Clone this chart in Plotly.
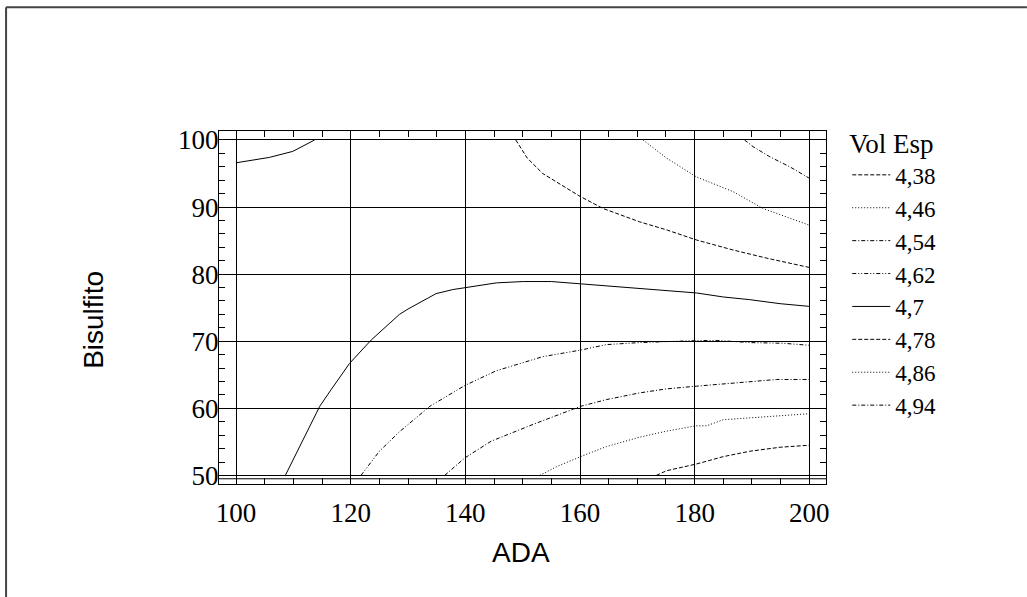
import plotly.graph_objects as go

# ---- data ----
levels = ["4,38", "4,46", "4,54", "4,62", "4,7", "4,78", "4,86", "4,94"]

L438_x = [173.3, 175.1, 180.3, 185.0, 189.6, 194.9, 200.0]
L438_y = [50.0, 50.7, 51.7, 52.8, 53.6, 54.2, 54.5]

L446_x = [153.0, 155.9, 160.1, 164.6, 170.4, 175.1, 180.3, 182.1, 185.0, 192.5, 200.0]
L446_y = [50.0, 51.3, 52.8, 54.3, 55.7, 56.6, 57.4, 57.4, 58.3, 58.8, 59.2]

L454_x = [136.4, 139.9, 144.5, 151.8, 160.1, 164.6, 170.4, 175.1, 180.3, 186.7, 194.3, 200.0]
L454_y = [50.0, 52.6, 55.1, 57.6, 60.3, 61.3, 62.3, 62.9, 63.3, 63.8, 64.3, 64.3]

L462_x = [121.8, 125.0, 128.5, 130.0, 133.8, 139.9, 145.4, 153.5, 160.2, 164.6, 170.4,
          180.3, 184.4, 189.6, 195.4, 200.0]
L462_y = [50.0, 53.6, 56.5, 57.6, 60.3, 63.4, 65.6, 67.7, 68.7, 69.5, 69.8,
          70.1, 70.1, 69.8, 69.7, 69.4]

L470_x = [108.6, 111.7, 114.6, 116.6, 119.8, 123.6, 128.5, 130.0, 134.9, 137.8, 140.2,
          145.4, 150.1, 155.0, 160.2, 170.4, 175.7, 180.3, 185.0, 189.6, 194.9, 200.0,
          None, 100.0, 105.8, 109.9, 113.7]
L470_y = [50.0, 55.3, 60.3, 62.8, 66.7, 70.2, 74.0, 74.8, 77.1, 77.7, 78.0,
          78.7, 78.9, 78.9, 78.55, 77.9, 77.6, 77.2, 76.6, 76.2, 75.6, 75.2,
          None, 96.6, 97.4, 98.3, 100.0]

L478_x = [148.8, 150.8, 153.5, 160.0, 164.0, 170.4, 175.1, 180.3, 186.7, 192.5, 200.0]
L478_y = [100.0, 97.3, 95.0, 91.6, 89.8, 87.8, 86.6, 85.1, 83.6, 82.4, 81.0]

L486_x = [171.0, 175.1, 180.3, 186.7, 191.9, 200.0]
L486_y = [100.0, 97.3, 94.5, 92.3, 89.8, 87.3]

L494_x = [188.7, 190.2, 193.1, 196.6, 200.0]
L494_y = [100.0, 99.0, 97.5, 96.0, 94.3]

xs = [L438_x, L446_x, L454_x, L462_x, L470_x, L478_x, L486_x, L494_x]
ys = [L438_y, L446_y, L454_y, L462_y, L470_y, L478_y, L486_y, L494_y]

dashes = ["4px,2px", "1px,2px", "4px,2px,1px,2px", "4px,2px,1px,2px,1px,2px",
          "solid", "4px,2px", "1px,2px", "4px,2px,1px,2px"]

fig = go.Figure()
for name, x, y, d in zip(levels, xs, ys, dashes):
    fig.add_trace(go.Scatter(
        x=x, y=y, mode="lines", name=name, connectgaps=False,
        line=dict(color="black", width=1, dash=d),
    ))

serif = "Liberation Serif, Times New Roman, serif"
sans = "Liberation Sans, Arial, sans-serif"

axis_common = dict(
    showline=True, linecolor="black", linewidth=1.3, mirror="ticks",
    ticks="inside", ticklen=6, tickcolor="black", tickwidth=1,
    showgrid=True, gridcolor="black", gridwidth=1, zeroline=False,
    tickfont=dict(family=serif, size=27, color="black"),
)

fig.update_xaxes(range=[97.03, 202.91], tick0=0, dtick=20,
                 minor=dict(dtick=5, ticks="inside", ticklen=6, tickcolor="black", showgrid=False),
                 ticklabelstandoff=4, **axis_common)
fig.update_yaxes(range=[48.72, 101.34], tick0=0, dtick=10,
                 minor=dict(dtick=2, ticks="inside", ticklen=6, tickcolor="black", showgrid=False),
                 ticklabelstandoff=-6, **axis_common)

# inner frame line just below the 50 level
fig.add_shape(type="line", xref="paper", yref="y", x0=0, x1=1, y0=49.5, y1=49.5,
              line=dict(color="black", width=1))
# outer border of the whole graphic (top and left edges only visible)
fig.add_shape(type="line", xref="paper", yref="paper", x0=-0.3508, x1=1.331, y0=1.3508, y1=1.3508,
              line=dict(color="#444444", width=2))
fig.add_shape(type="line", xref="paper", yref="paper", x0=-0.3508, x1=-0.3508, y0=-0.32, y1=1.3508,
              line=dict(color="#444444", width=2))

fig.add_annotation(text="ADA", xref="paper", yref="paper", x=0.497, y=-0.195,
                   showarrow=False, font=dict(family=sans, size=28, color="black"),
                   xanchor="center", yanchor="middle")
fig.add_annotation(text="Bisulfito", xref="paper", yref="paper", x=-0.207, y=0.466,
                   textangle=-90, showarrow=False,
                   font=dict(family=sans, size=28, color="black"),
                   xanchor="center", yanchor="middle")

fig.update_layout(
    width=1027, height=597,
    margin=dict(l=219, r=201, t=131, b=113),
    paper_bgcolor="white", plot_bgcolor="white",
    showlegend=True,
    legend=dict(
        title=dict(text="Vol Esp", font=dict(family=serif, size=27, color="black")),
        font=dict(family=serif, size=23, color="black"),
        x=1.035, xanchor="left", y=1.036, yanchor="top",
        bgcolor="rgba(0,0,0,0)", borderwidth=0, itemwidth=38,
        tracegroupgap=0, maxheight=590,
    ),
)

fig.write_html("out.html")
